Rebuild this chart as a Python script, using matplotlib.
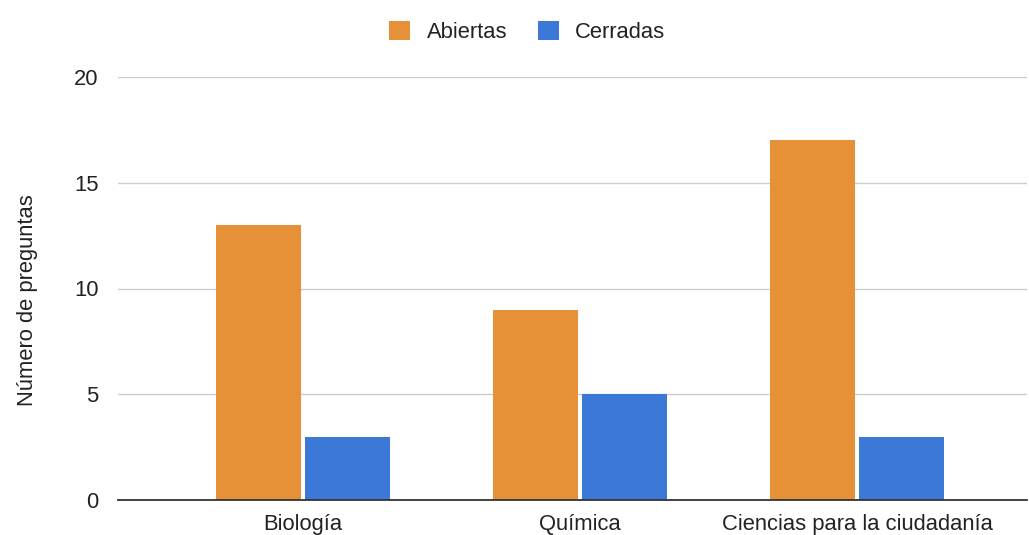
import matplotlib.pyplot as plt
import numpy as np

plt.rcParams['font.family'] = ['Liberation Sans', 'DejaVu Sans']

categorias = ['Biología', 'Química', 'Ciencias para la ciudadanía']
abiertas = [13, 9, 17]
cerradas = [3, 5, 3]
series = ['Abiertas', 'Cerradas']
colores = ['#E69138', '#3C78D8']

fs = 15.8
fig = plt.figure(figsize=(10.29, 5.35), dpi=100)
ax = fig.add_axes([118 / 1029, 1 - 500 / 535, (1027 - 118) / 1029, (500 - 77) / 535])

x = np.arange(len(categorias))
ancho = 0.307
off = 0.161
ax.bar(x - off, abiertas, ancho, color=colores[0], label=series[0], zorder=3)
ax.bar(x + off, cerradas, ancho, color=colores[1], label=series[1], zorder=3)

ax.set_xlim(-0.668, 2.614)
ax.set_ylim(0, 20)
ax.set_yticks([0, 5, 10, 15, 20])
ax.set_xticks(x)
ax.set_xticklabels(categorias)
ax.tick_params(axis='both', length=0, labelsize=fs, colors='#222222')
ax.tick_params(axis='y', pad=14)
ax.tick_params(axis='x', pad=10)

ax.grid(axis='y', color='#cccccc', linewidth=1, zorder=0)
for s in ['top', 'right', 'left']:
    ax.spines[s].set_visible(False)
ax.spines['bottom'].set_color('#333333')
ax.spines['bottom'].set_linewidth(1.3)
ax.spines['bottom'].set_zorder(4)

ax.set_ylabel('Número de preguntas', fontsize=fs, color='#222222')
ax.yaxis.set_label_coords(-80 / 909, 0.472)

fig.legend(loc='upper center', bbox_to_anchor=(0.5126, 0.998), ncol=2, frameon=False,
           fontsize=fs, handlelength=0.95, handleheight=0.95, columnspacing=1.4,
           handletextpad=0.75, labelcolor='#222222')

fig.savefig('out.png', dpi=100)
